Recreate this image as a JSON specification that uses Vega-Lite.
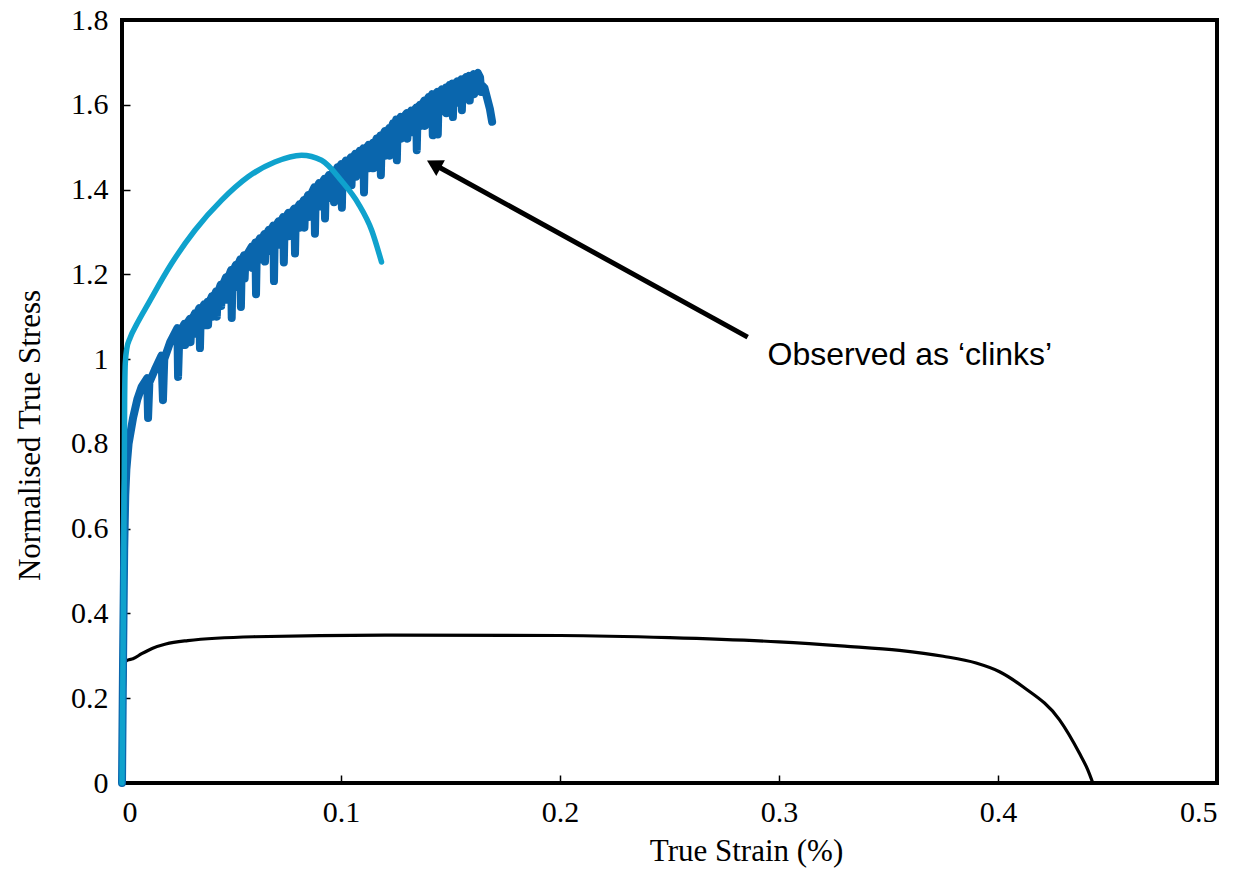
{
  "$schema": "https://vega.github.io/schema/vega-lite/v6.json",
  "width": 1095,
  "height": 763,
  "autosize": {"type": "none"},
  "padding": {"left": 122, "top": 20, "right": 22, "bottom": 108},
  "background": "white",
  "config": {
    "view": {"stroke": "black", "strokeWidth": 4},
    "axis": {
      "domain": false,
      "grid": false,
      "zindex": 1,
      "tickColor": "black",
      "tickWidth": 1.5,
      "tickSize": -8,
      "labelFont": "Liberation Serif",
      "labelFontSize": 30,
      "labelColor": "black",
      "titleFont": "Liberation Serif",
      "titleFontSize": 31,
      "titleFontWeight": "normal",
      "titleColor": "black",
      "format": "~g"
    }
  },
  "datasets": {
    "black": [
      {"strain": 0, "stress": 0},
      {"strain": 0.0008, "stress": 0.15},
      {"strain": 0.0015, "stress": 0.285},
      {"strain": 0.0026, "stress": 0.29},
      {"strain": 0.005, "stress": 0.293},
      {"strain": 0.009, "stress": 0.305},
      {"strain": 0.014, "stress": 0.318},
      {"strain": 0.02, "stress": 0.328},
      {"strain": 0.03, "stress": 0.336},
      {"strain": 0.06, "stress": 0.345},
      {"strain": 0.12, "stress": 0.349},
      {"strain": 0.2, "stress": 0.348},
      {"strain": 0.25, "stress": 0.343},
      {"strain": 0.3, "stress": 0.333},
      {"strain": 0.33, "stress": 0.323},
      {"strain": 0.355, "stress": 0.313},
      {"strain": 0.375, "stress": 0.299},
      {"strain": 0.39, "stress": 0.283},
      {"strain": 0.4007, "stress": 0.2625},
      {"strain": 0.4114, "stress": 0.227},
      {"strain": 0.4281, "stress": 0.149},
      {"strain": 0.4372, "stress": 0.07},
      {"strain": 0.441, "stress": 0.031},
      {"strain": 0.4433, "stress": 0}
    ],
    "dark": [
      {"strain": 0, "stress": 0},
      {"strain": 0.0005, "stress": 0.3},
      {"strain": 0.001, "stress": 0.55},
      {"strain": 0.0015, "stress": 0.68},
      {"strain": 0.002, "stress": 0.74},
      {"strain": 0.003, "stress": 0.8},
      {"strain": 0.005, "stress": 0.86},
      {"strain": 0.007, "stress": 0.905},
      {"strain": 0.009, "stress": 0.935},
      {"strain": 0.0115, "stress": 0.955},
      {"strain": 0.0119, "stress": 0.861},
      {"strain": 0.0125, "stress": 0.945},
      {"strain": 0.015, "stress": 0.975},
      {"strain": 0.018, "stress": 1.008},
      {"strain": 0.0187, "stress": 0.903},
      {"strain": 0.0193, "stress": 1.0},
      {"strain": 0.022, "stress": 1.04},
      {"strain": 0.0253, "stress": 1.073},
      {"strain": 0.0256, "stress": 0.958},
      {"strain": 0.0262, "stress": 1.06},
      {"strain": 0.0285, "stress": 1.083}, {"strain": 0.0288, "stress": 1.033}, {"strain": 0.0292, "stress": 1.08},
      {"strain": 0.031, "stress": 1.095}, {"strain": 0.0313, "stress": 1.04}, {"strain": 0.0317, "stress": 1.09},
      {"strain": 0.0333, "stress": 1.108}, {"strain": 0.0336, "stress": 1.06}, {"strain": 0.034, "stress": 1.105},
      {"strain": 0.0353, "stress": 1.12}, {"strain": 0.0356, "stress": 1.026}, {"strain": 0.036, "stress": 1.115},
      {"strain": 0.0375, "stress": 1.129}, {"strain": 0.0378, "stress": 1.08}, {"strain": 0.0382, "stress": 1.125},
      {"strain": 0.039, "stress": 1.135}, {"strain": 0.0393, "stress": 1.08}, {"strain": 0.0397, "stress": 1.13},
      {"strain": 0.041, "stress": 1.148}, {"strain": 0.0413, "stress": 1.1}, {"strain": 0.0417, "stress": 1.143},
      {"strain": 0.043, "stress": 1.16}, {"strain": 0.0433, "stress": 1.1}, {"strain": 0.0437, "stress": 1.155},
      {"strain": 0.045, "stress": 1.175}, {"strain": 0.0453, "stress": 1.125}, {"strain": 0.0457, "stress": 1.17},
      {"strain": 0.0475, "stress": 1.193}, {"strain": 0.0478, "stress": 1.14}, {"strain": 0.0482, "stress": 1.188},
      {"strain": 0.0498, "stress": 1.21}, {"strain": 0.0501, "stress": 1.097}, {"strain": 0.0505, "stress": 1.205},
      {"strain": 0.052, "stress": 1.222}, {"strain": 0.0523, "stress": 1.17}, {"strain": 0.0527, "stress": 1.217},
      {"strain": 0.054, "stress": 1.235}, {"strain": 0.0543, "stress": 1.123}, {"strain": 0.0547, "stress": 1.23},
      {"strain": 0.0557, "stress": 1.245}, {"strain": 0.056, "stress": 1.19}, {"strain": 0.0564, "stress": 1.24},
      {"strain": 0.0592, "stress": 1.265}, {"strain": 0.0595, "stress": 1.215}, {"strain": 0.0599, "stress": 1.26},
      {"strain": 0.0609, "stress": 1.275}, {"strain": 0.0612, "stress": 1.153}, {"strain": 0.0616, "stress": 1.27},
      {"strain": 0.063, "stress": 1.285}, {"strain": 0.0633, "stress": 1.235}, {"strain": 0.0637, "stress": 1.28},
      {"strain": 0.065, "stress": 1.295}, {"strain": 0.0653, "stress": 1.23}, {"strain": 0.0657, "stress": 1.29},
      {"strain": 0.067, "stress": 1.305}, {"strain": 0.0673, "stress": 1.255}, {"strain": 0.0677, "stress": 1.3},
      {"strain": 0.0691, "stress": 1.315}, {"strain": 0.0694, "stress": 1.184}, {"strain": 0.0698, "stress": 1.31},
      {"strain": 0.0715, "stress": 1.325}, {"strain": 0.0718, "stress": 1.27}, {"strain": 0.0722, "stress": 1.32},
      {"strain": 0.0736, "stress": 1.335}, {"strain": 0.0739, "stress": 1.228}, {"strain": 0.0743, "stress": 1.33},
      {"strain": 0.076, "stress": 1.345}, {"strain": 0.0763, "stress": 1.29}, {"strain": 0.0767, "stress": 1.34},
      {"strain": 0.0787, "stress": 1.355}, {"strain": 0.079, "stress": 1.249}, {"strain": 0.0794, "stress": 1.35},
      {"strain": 0.081, "stress": 1.365}, {"strain": 0.0813, "stress": 1.31}, {"strain": 0.0817, "stress": 1.36},
      {"strain": 0.083, "stress": 1.375}, {"strain": 0.0833, "stress": 1.31}, {"strain": 0.0837, "stress": 1.37},
      {"strain": 0.085, "stress": 1.387}, {"strain": 0.0853, "stress": 1.335}, {"strain": 0.0857, "stress": 1.382},
      {"strain": 0.0878, "stress": 1.405}, {"strain": 0.0881, "stress": 1.296}, {"strain": 0.0885, "stress": 1.4},
      {"strain": 0.09, "stress": 1.415}, {"strain": 0.0903, "stress": 1.36}, {"strain": 0.0907, "stress": 1.41},
      {"strain": 0.0924, "stress": 1.425}, {"strain": 0.0927, "stress": 1.332}, {"strain": 0.0931, "stress": 1.42},
      {"strain": 0.0945, "stress": 1.434}, {"strain": 0.0948, "stress": 1.38}, {"strain": 0.0952, "stress": 1.43},
      {"strain": 0.0965, "stress": 1.443}, {"strain": 0.0968, "stress": 1.37}, {"strain": 0.0972, "stress": 1.438},
      {"strain": 0.0983, "stress": 1.452}, {"strain": 0.0986, "stress": 1.4}, {"strain": 0.099, "stress": 1.447},
      {"strain": 0.1001, "stress": 1.46}, {"strain": 0.1004, "stress": 1.357}, {"strain": 0.1008, "stress": 1.455},
      {"strain": 0.1022, "stress": 1.468}, {"strain": 0.1025, "stress": 1.41}, {"strain": 0.1029, "stress": 1.463},
      {"strain": 0.1045, "stress": 1.476}, {"strain": 0.1048, "stress": 1.41}, {"strain": 0.1052, "stress": 1.471},
      {"strain": 0.1065, "stress": 1.484}, {"strain": 0.1068, "stress": 1.43}, {"strain": 0.1072, "stress": 1.479},
      {"strain": 0.1085, "stress": 1.491}, {"strain": 0.1088, "stress": 1.44}, {"strain": 0.1092, "stress": 1.486},
      {"strain": 0.1102, "stress": 1.497}, {"strain": 0.1105, "stress": 1.393}, {"strain": 0.1109, "stress": 1.492},
      {"strain": 0.1125, "stress": 1.505}, {"strain": 0.1128, "stress": 1.45}, {"strain": 0.1132, "stress": 1.5},
      {"strain": 0.1145, "stress": 1.51}, {"strain": 0.1148, "stress": 1.45}, {"strain": 0.1152, "stress": 1.505},
      {"strain": 0.1162, "stress": 1.52}, {"strain": 0.1165, "stress": 1.47}, {"strain": 0.1169, "stress": 1.515},
      {"strain": 0.1179, "stress": 1.527}, {"strain": 0.1182, "stress": 1.434}, {"strain": 0.1186, "stress": 1.522},
      {"strain": 0.12, "stress": 1.538}, {"strain": 0.1203, "stress": 1.48}, {"strain": 0.1207, "stress": 1.533},
      {"strain": 0.122, "stress": 1.545}, {"strain": 0.1223, "stress": 1.48}, {"strain": 0.1227, "stress": 1.54},
      {"strain": 0.1237, "stress": 1.556}, {"strain": 0.124, "stress": 1.5}, {"strain": 0.1244, "stress": 1.551},
      {"strain": 0.1252, "stress": 1.565}, {"strain": 0.1255, "stress": 1.469}, {"strain": 0.1259, "stress": 1.56},
      {"strain": 0.1272, "stress": 1.571}, {"strain": 0.1275, "stress": 1.52}, {"strain": 0.1279, "stress": 1.566},
      {"strain": 0.13, "stress": 1.58}, {"strain": 0.1303, "stress": 1.52}, {"strain": 0.1307, "stress": 1.575},
      {"strain": 0.132, "stress": 1.586}, {"strain": 0.1323, "stress": 1.535}, {"strain": 0.1327, "stress": 1.581},
      {"strain": 0.1343, "stress": 1.593}, {"strain": 0.1346, "stress": 1.493}, {"strain": 0.135, "stress": 1.588},
      {"strain": 0.136, "stress": 1.6}, {"strain": 0.1363, "stress": 1.55}, {"strain": 0.1367, "stress": 1.595},
      {"strain": 0.138, "stress": 1.61}, {"strain": 0.1383, "stress": 1.55}, {"strain": 0.1387, "stress": 1.605},
      {"strain": 0.14, "stress": 1.618}, {"strain": 0.1403, "stress": 1.57}, {"strain": 0.1407, "stress": 1.613},
      {"strain": 0.1416, "stress": 1.625}, {"strain": 0.1419, "stress": 1.528}, {"strain": 0.1423, "stress": 1.62},
      {"strain": 0.1439, "stress": 1.63}, {"strain": 0.1442, "stress": 1.53}, {"strain": 0.1446, "stress": 1.625},
      {"strain": 0.146, "stress": 1.636}, {"strain": 0.1463, "stress": 1.585}, {"strain": 0.1467, "stress": 1.631},
      {"strain": 0.1478, "stress": 1.64}, {"strain": 0.1481, "stress": 1.58}, {"strain": 0.1485, "stress": 1.635},
      {"strain": 0.1495, "stress": 1.646}, {"strain": 0.1498, "stress": 1.6}, {"strain": 0.1502, "stress": 1.641},
      {"strain": 0.1508, "stress": 1.65}, {"strain": 0.1511, "stress": 1.571}, {"strain": 0.1515, "stress": 1.645},
      {"strain": 0.153, "stress": 1.655}, {"strain": 0.1533, "stress": 1.605}, {"strain": 0.1537, "stress": 1.65},
      {"strain": 0.1549, "stress": 1.66}, {"strain": 0.1552, "stress": 1.587}, {"strain": 0.1556, "stress": 1.655},
      {"strain": 0.157, "stress": 1.665}, {"strain": 0.1573, "stress": 1.615}, {"strain": 0.1577, "stress": 1.66},
      {"strain": 0.1585, "stress": 1.668}, {"strain": 0.1588, "stress": 1.61}, {"strain": 0.1592, "stress": 1.663},
      {"strain": 0.1605, "stress": 1.672}, {"strain": 0.1608, "stress": 1.625}, {"strain": 0.1612, "stress": 1.668},
      {"strain": 0.1625, "stress": 1.675},
      {"strain": 0.1635, "stress": 1.665},
      {"strain": 0.164, "stress": 1.63},
      {"strain": 0.1645, "stress": 1.645},
      {"strain": 0.1655, "stress": 1.64},
      {"strain": 0.1665, "stress": 1.62},
      {"strain": 0.168, "stress": 1.59},
      {"strain": 0.169, "stress": 1.56}
    ],
    "light": [
      {"strain": 0, "stress": 0},
      {"strain": 0.0008, "stress": 0.5},
      {"strain": 0.0012, "stress": 0.9},
      {"strain": 0.0015, "stress": 0.99},
      {"strain": 0.0022, "stress": 1.025},
      {"strain": 0.0037, "stress": 1.05},
      {"strain": 0.007, "stress": 1.085},
      {"strain": 0.012, "stress": 1.131},
      {"strain": 0.0227, "stress": 1.226},
      {"strain": 0.0333, "stress": 1.304},
      {"strain": 0.0455, "stress": 1.375},
      {"strain": 0.0576, "stress": 1.43},
      {"strain": 0.0698, "stress": 1.465},
      {"strain": 0.082, "stress": 1.481},
      {"strain": 0.0911, "stress": 1.469},
      {"strain": 0.1003, "stress": 1.42},
      {"strain": 0.1079, "stress": 1.367},
      {"strain": 0.114, "stress": 1.304},
      {"strain": 0.1185, "stress": 1.229}
    ],
    "arrow": [
      {"x1": 0.2857, "y1": 1.052, "x2": 0.1434, "y2": 1.4566, "angle": 298.8}
    ],
    "note": [
      {"x": 0.2948, "y": 1.009, "text": "Observed as ‘clinks’"}
    ]
  },
  "layer": [
    {
      "data": {"name": "black"},
      "mark": {"type": "line", "color": "black", "strokeWidth": 3.2, "interpolate": "monotone"},
      "encoding": {
        "x": {
          "field": "strain", "type": "quantitative",
          "scale": {"domain": [0, 0.5], "nice": false},
          "axis": {
            "values": [0, 0.1, 0.2, 0.3, 0.4, 0.5],
            "title": "True Strain (%)",
            "labelPadding": 22,
            "titleX": 624,
            "titleY": 68,
            "titleBaseline": "middle",
            "titleAnchor": "start",
            "titleAlign": "center"
          }
        },
        "y": {
          "field": "stress", "type": "quantitative",
          "scale": {"domain": [0, 1.8], "nice": false},
          "axis": {
            "values": [0, 0.2, 0.4, 0.6, 0.8, 1, 1.2, 1.4, 1.6, 1.8],
            "title": "Normalised True Stress",
            "labelPadding": 22,
            "titleX": -92,
            "titleY": 415,
            "titleAngle": -90,
            "titleBaseline": "middle",
            "titleAlign": "center",
            "titleAnchor": "start"
          }
        }
      }
    },
    {
      "data": {"name": "dark"},
      "mark": {"type": "line", "color": "#0a66ad", "strokeWidth": 8, "strokeJoin": "round", "strokeCap": "round"},
      "encoding": {
        "x": {"field": "strain", "type": "quantitative"},
        "y": {"field": "stress", "type": "quantitative"}
      }
    },
    {
      "data": {"name": "light"},
      "mark": {"type": "line", "color": "#0fa2cd", "strokeWidth": 5.5, "strokeCap": "round", "interpolate": "monotone"},
      "encoding": {
        "x": {"field": "strain", "type": "quantitative"},
        "y": {"field": "stress", "type": "quantitative"}
      }
    },
    {
      "data": {"name": "arrow"},
      "mark": {"type": "rule", "color": "black", "strokeWidth": 5},
      "encoding": {
        "x": {"field": "x1", "type": "quantitative"},
        "y": {"field": "y1", "type": "quantitative"},
        "x2": {"field": "x2"},
        "y2": {"field": "y2"}
      }
    },
    {
      "data": {"name": "arrow"},
      "mark": {"type": "point", "shape": "triangle", "filled": true, "color": "black", "opacity": 1, "size": 320},
      "encoding": {
        "x": {"field": "x2", "type": "quantitative"},
        "y": {"field": "y2", "type": "quantitative"},
        "angle": {"field": "angle", "type": "quantitative", "scale": null}
      }
    },
    {
      "data": {"name": "note"},
      "mark": {"type": "text", "font": "Liberation Sans", "fontSize": 32, "align": "left", "baseline": "middle", "color": "black"},
      "encoding": {
        "x": {"field": "x", "type": "quantitative"},
        "y": {"field": "y", "type": "quantitative"},
        "text": {"field": "text"}
      }
    }
  ]
}
